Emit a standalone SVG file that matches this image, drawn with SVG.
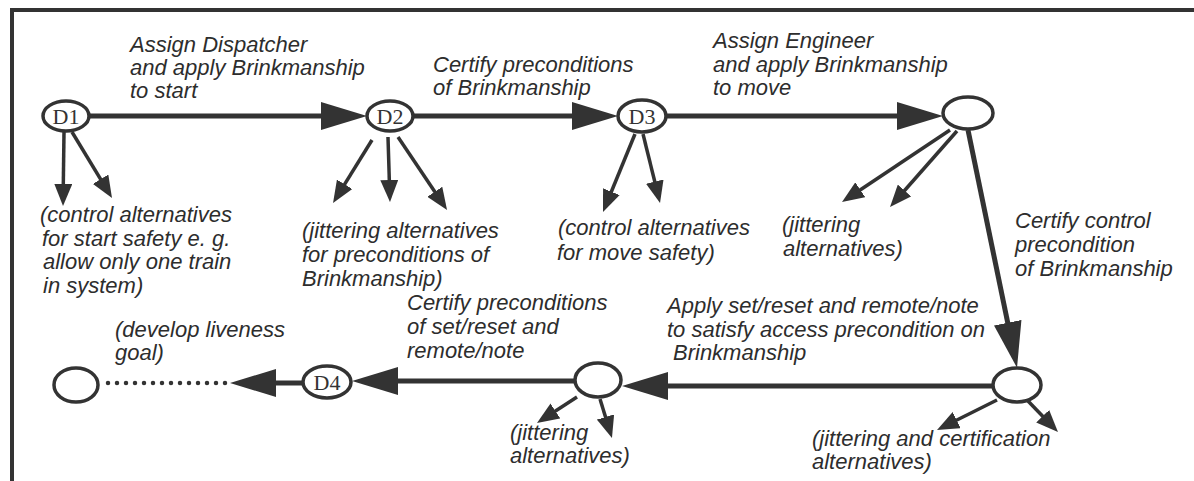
<svg xmlns="http://www.w3.org/2000/svg" width="1194" height="481" viewBox="0 0 1194 481">
  <style>
    .frame { stroke: #333; stroke-width: 4; fill: none; }
    .node { fill: #fff; stroke: #333; stroke-width: 3.5; }
    .nid { font-family: "Liberation Serif", serif; font-size: 22px; fill: #333; text-anchor: middle; }
    .main { stroke: #333; stroke-width: 5; fill: none; }
    .alt { stroke: #333; stroke-width: 3.5; fill: none; }
    .dots { stroke: #333; stroke-width: 4.5; stroke-linecap: round; stroke-dasharray: 0 9; fill: none; }
    .lbl { font-family: "Liberation Sans", Arial, sans-serif; font-style: italic; font-size: 22px; fill: #2d2d2d; }
  </style>
  <defs>
    <marker id="bigHead" markerUnits="userSpaceOnUse" viewBox="0 0 46 28" markerWidth="46" markerHeight="28" refX="36" refY="14" orient="auto">
      <path d="M0,0 L46,14 L0,28 z" fill="#333"/>
    </marker>
    <marker id="smallHead" markerUnits="userSpaceOnUse" viewBox="0 0 22 18" markerWidth="22" markerHeight="18" refX="16" refY="9" orient="auto">
      <path d="M0,0 L22,9 L0,18 z" fill="#333"/>
    </marker>
  </defs>

  <rect width="1194" height="481" fill="#fff"/>

  <!-- outer frame: top and left rules -->
  <path class="frame" d="M12,481 V10 H1194"/>

  <!-- connectors -->
  <g id="connectors">
    <line class="main" x1="90" y1="116" x2="357" y2="116" marker-end="url(#bigHead)"/>
    <line class="main" x1="414" y1="116" x2="608" y2="116" marker-end="url(#bigHead)"/>
    <line class="main" x1="667" y1="116" x2="933" y2="116" marker-end="url(#bigHead)"/>
    <line class="main" x1="968" y1="130" x2="1015" y2="358" marker-end="url(#bigHead)"/>
    <line class="main" x1="993" y1="386" x2="632" y2="386" marker-end="url(#bigHead)"/>
    <line class="main" x1="575" y1="381" x2="362" y2="381" marker-end="url(#bigHead)"/>
    <line class="main" x1="303" y1="383" x2="240" y2="383" marker-end="url(#bigHead)"/>
    <line class="dots" x1="108" y1="383" x2="226" y2="383"/>

    <!-- alternative branches -->
    <line class="alt" x1="64" y1="132" x2="63.1" y2="200" marker-end="url(#smallHead)"/>
    <line class="alt" x1="72" y1="132" x2="108.9" y2="192.9" marker-end="url(#smallHead)"/>

    <line class="alt" x1="372" y1="140" x2="336.2" y2="197.9" marker-end="url(#smallHead)"/>
    <line class="alt" x1="388" y1="137" x2="389.8" y2="196" marker-end="url(#smallHead)"/>
    <line class="alt" x1="398" y1="137" x2="443.7" y2="205" marker-end="url(#smallHead)"/>

    <line class="alt" x1="635" y1="134" x2="605.3" y2="206.5" marker-end="url(#smallHead)"/>
    <line class="alt" x1="643" y1="134" x2="658.6" y2="197.2" marker-end="url(#smallHead)"/>

    <line class="alt" x1="950" y1="130" x2="847" y2="198.7" marker-end="url(#smallHead)"/>
    <line class="alt" x1="957" y1="131" x2="894" y2="202.5" marker-end="url(#smallHead)"/>

    <line class="alt" x1="577" y1="397" x2="542" y2="419.7" marker-end="url(#smallHead)"/>
    <line class="alt" x1="600" y1="399" x2="610.2" y2="432.3" marker-end="url(#smallHead)"/>

    <line class="alt" x1="997" y1="400" x2="942.4" y2="427.3" marker-end="url(#smallHead)"/>
    <line class="alt" x1="1028" y1="401" x2="1053.8" y2="427.7" marker-end="url(#smallHead)"/>
  </g>

  <!-- nodes -->
  <g id="D1"><ellipse class="node" cx="66" cy="116" rx="23" ry="15"/><text class="nid" x="66" y="124">D1</text></g>
  <g id="D2"><ellipse class="node" cx="390" cy="116" rx="23" ry="15"/><text class="nid" x="390" y="124">D2</text></g>
  <g id="D3"><ellipse class="node" cx="642" cy="116" rx="24" ry="16"/><text class="nid" x="642" y="124">D3</text></g>
  <g id="engineer"><ellipse class="node" cx="968" cy="113" rx="25" ry="16"/></g>
  <g id="control-cert"><ellipse class="node" cx="1017" cy="385" rx="24" ry="17"/></g>
  <g id="setreset-cert"><ellipse class="node" cx="598" cy="380" rx="23" ry="17"/></g>
  <g id="D4"><ellipse class="node" cx="327" cy="382" rx="24" ry="16"/><text class="nid" x="327" y="390">D4</text></g>
  <g id="liveness"><ellipse class="node" cx="76" cy="385" rx="22" ry="17"/></g>

  <!-- labels -->
  <g id="labels">
    <text class="lbl" x="130" y="52">Assign Dispatcher</text>
    <text class="lbl" x="130" y="75">and apply Brinkmanship</text>
    <text class="lbl" x="130" y="98">to start</text>

    <text class="lbl" x="433" y="72">Certify preconditions</text>
    <text class="lbl" x="433" y="95">of Brinkmanship</text>

    <text class="lbl" x="713" y="48">Assign Engineer</text>
    <text class="lbl" x="713" y="72">and apply Brinkmanship</text>
    <text class="lbl" x="713" y="95">to move</text>

    <text class="lbl" x="40" y="222">(control alternatives</text>
    <text class="lbl" x="42" y="246">for start safety e. g.</text>
    <text class="lbl" x="43" y="269">allow only one train</text>
    <text class="lbl" x="43" y="293">in system)</text>

    <text class="lbl" x="302" y="238">(jittering alternatives</text>
    <text class="lbl" x="302" y="262">for preconditions of</text>
    <text class="lbl" x="302" y="286">Brinkmanship)</text>

    <text class="lbl" x="558" y="235">(control alternatives</text>
    <text class="lbl" x="557" y="260">for move safety)</text>

    <text class="lbl" x="782" y="232">(jittering</text>
    <text class="lbl" x="783" y="256">alternatives)</text>

    <text class="lbl" x="1015" y="228">Certify control</text>
    <text class="lbl" x="1015" y="252">precondition</text>
    <text class="lbl" x="1015" y="276">of Brinkmanship</text>

    <text class="lbl" x="667" y="313">Apply set/reset and remote/note</text>
    <text class="lbl" x="667" y="337">to satisfy access precondition on</text>
    <text class="lbl" x="673" y="360">Brinkmanship</text>

    <text class="lbl" x="407" y="310">Certify preconditions</text>
    <text class="lbl" x="407" y="334">of set/reset and</text>
    <text class="lbl" x="407" y="358">remote/note</text>

    <text class="lbl" x="115" y="337">(develop liveness</text>
    <text class="lbl" x="115" y="360">goal)</text>

    <text class="lbl" x="510" y="440">(jittering</text>
    <text class="lbl" x="510" y="463">alternatives)</text>

    <text class="lbl" x="812" y="446">(jittering and certification</text>
    <text class="lbl" x="812" y="469">alternatives)</text>
  </g>
</svg>
